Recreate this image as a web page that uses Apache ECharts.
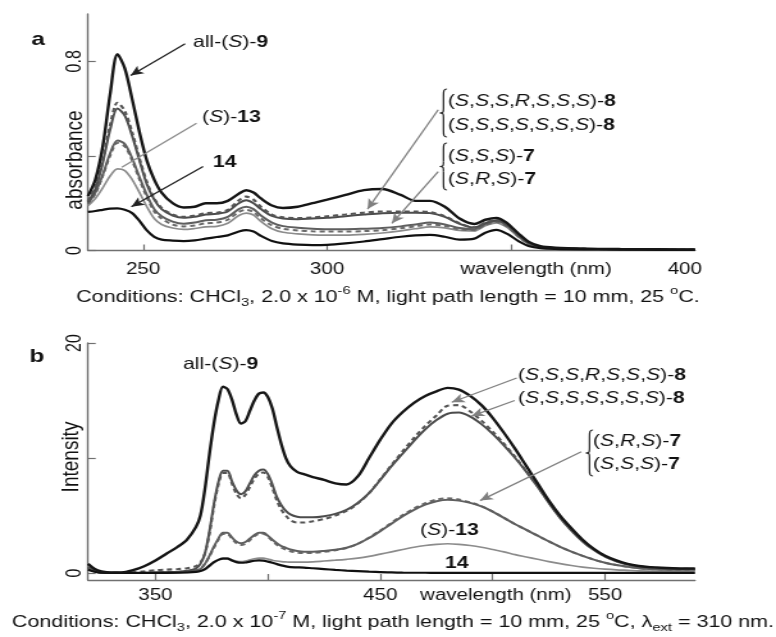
<!DOCTYPE html>
<html><head><meta charset="utf-8">
<script src="https://cdn.jsdelivr.net/npm/echarts@6/dist/echarts.min.js"></script>
<style>
html,body{margin:0;padding:0;background:#fff;overflow:hidden}
#wrap{width:776px;height:637px;overflow:hidden;background:#fff}
#c{width:606px;height:637px;transform:scaleX(1.2805);transform-origin:0 0}
</style>
</head><body><div id="wrap"><div id="c"></div></div>
<script>
// ---------- Panel a: absorbance ----------
const wavelengthsA = [235,237,239,241,243,245,247,249,251,253,255,258,261,264,267,270,273,276,278,280,282,285,288,292,296,300,305,310,315,320,324,328,332,336,340,343,346,349,352,355,358,362,370,380,390,400];
const absAll9 = [0.23,0.30,0.44,0.66,0.83,0.77,0.64,0.50,0.38,0.30,0.245,0.20,0.182,0.185,0.20,0.20,0.21,0.24,0.255,0.245,0.22,0.19,0.18,0.185,0.20,0.215,0.235,0.255,0.26,0.235,0.21,0.21,0.185,0.135,0.112,0.13,0.138,0.115,0.072,0.035,0.018,0.012,0.008,0.006,0.005,0.004];
const absSSSRSSS8 = [0.21,0.27,0.38,0.53,0.625,0.59,0.50,0.39,0.29,0.22,0.18,0.152,0.142,0.148,0.158,0.16,0.172,0.212,0.228,0.215,0.185,0.152,0.14,0.137,0.14,0.145,0.152,0.16,0.165,0.165,0.165,0.162,0.145,0.115,0.098,0.118,0.13,0.11,0.068,0.03,0.016,0.011,0.007,0.005,0.004,0.003];
const absSSSSSSS8 = [0.205,0.26,0.37,0.51,0.60,0.57,0.485,0.38,0.28,0.215,0.175,0.148,0.138,0.143,0.152,0.155,0.165,0.20,0.212,0.20,0.175,0.146,0.135,0.132,0.135,0.138,0.145,0.152,0.158,0.16,0.16,0.158,0.142,0.113,0.097,0.116,0.128,0.108,0.066,0.03,0.016,0.011,0.007,0.005,0.004,0.003];
const absSSS7 = [0.20,0.245,0.32,0.41,0.465,0.45,0.39,0.31,0.235,0.175,0.145,0.122,0.113,0.118,0.128,0.13,0.142,0.175,0.185,0.175,0.148,0.118,0.103,0.096,0.092,0.09,0.09,0.092,0.095,0.102,0.11,0.118,0.11,0.095,0.09,0.112,0.125,0.105,0.062,0.028,0.015,0.01,0.007,0.005,0.004,0.003];
const absSRS7 = [0.198,0.24,0.315,0.40,0.455,0.44,0.38,0.30,0.225,0.165,0.135,0.11,0.102,0.106,0.115,0.118,0.13,0.163,0.172,0.163,0.136,0.106,0.092,0.085,0.081,0.08,0.08,0.082,0.086,0.094,0.102,0.11,0.104,0.09,0.086,0.108,0.12,0.10,0.06,0.027,0.015,0.01,0.007,0.005,0.004,0.003];
const absS13 = [0.19,0.22,0.265,0.315,0.345,0.338,0.30,0.245,0.185,0.135,0.11,0.095,0.089,0.093,0.10,0.102,0.115,0.148,0.158,0.15,0.123,0.092,0.077,0.07,0.066,0.065,0.065,0.068,0.074,0.083,0.092,0.10,0.096,0.085,0.083,0.105,0.117,0.097,0.057,0.026,0.014,0.01,0.006,0.005,0.004,0.003];
const abs14 = [0.163,0.167,0.172,0.177,0.178,0.172,0.158,0.125,0.085,0.058,0.046,0.042,0.04,0.043,0.05,0.057,0.064,0.08,0.086,0.08,0.062,0.04,0.03,0.025,0.023,0.024,0.03,0.038,0.048,0.058,0.064,0.066,0.058,0.046,0.05,0.075,0.087,0.07,0.04,0.018,0.01,0.007,0.005,0.004,0.003,0.003];

// ---------- Panel b: fluorescence ----------
const wavelengthsB = [320,323,326,330,335,340,345,350,355,360,364,368,370,372,374,376,378,380,382,384,386,388,390,392,394,396,398,400,402,404,406,408,410,413,416,420,425,430,435,440,445,450,455,460,465,470,475,480,485,490,495,500,505,510,515,520,525,530,535,540,545,550,555,560,565,570,575,580,585,590];
const intAll9 = [0.8,0.35,0.15,0.05,0.05,0.25,0.6,1.1,1.7,2.3,2.9,4.0,5.0,7.3,10.3,13.0,15.0,16.2,16.0,15.1,13.8,13.0,13.2,14.1,15.0,15.6,15.7,15.3,14.3,12.7,11.2,10.0,9.3,8.8,8.6,8.35,8.1,7.8,7.7,8.4,10.0,11.6,13.0,14.0,14.8,15.4,15.8,16.1,15.95,15.4,14.6,13.5,12.2,10.8,9.3,7.8,6.3,5.0,3.9,2.9,2.1,1.5,1.1,0.8,0.62,0.52,0.46,0.42,0.4,0.4];
const intSSSRSSS8 = [0.5,0.2,0.08,0.03,0.03,0.08,0.15,0.25,0.3,0.35,0.42,0.6,0.9,1.7,3.4,5.8,7.7,8.7,8.7,7.8,6.9,6.5,6.8,7.5,8.2,8.65,8.75,8.35,7.4,6.3,5.5,5.0,4.6,4.4,4.4,4.5,4.7,5.0,5.4,6.05,6.95,8.15,9.4,10.6,11.75,12.8,13.7,14.55,14.6,14.05,13.25,12.3,11.25,10.1,8.85,7.55,6.15,4.85,3.75,2.8,2.05,1.45,1.05,0.77,0.6,0.5,0.43,0.39,0.37,0.36];
const intSSSSSSS8 = [0.5,0.2,0.05,0.0,0.0,0.0,0.02,0.05,0.08,0.12,0.2,0.4,0.8,1.7,3.6,6.0,7.9,8.9,8.9,8.0,7.2,6.85,7.1,7.8,8.5,8.9,9.0,8.6,7.7,6.6,5.9,5.4,5.1,4.9,4.85,4.85,4.95,5.15,5.5,6.1,6.95,8.1,9.3,10.4,11.5,12.5,13.3,13.85,13.95,13.6,12.95,12.1,11.1,10.0,8.8,7.5,6.1,4.8,3.7,2.75,2.0,1.42,1.02,0.75,0.58,0.48,0.42,0.38,0.36,0.35];
const intSRS7 = [0.4,0.15,0.03,0.0,0.0,0.0,0.02,0.05,0.08,0.1,0.15,0.25,0.38,0.8,1.45,2.2,2.9,3.4,3.4,3.0,2.6,2.45,2.55,2.85,3.2,3.4,3.42,3.15,2.8,2.45,2.2,2.05,1.9,1.78,1.74,1.76,1.85,1.98,2.18,2.55,3.08,3.7,4.38,5.05,5.62,6.08,6.38,6.5,6.4,6.15,5.82,5.35,4.8,4.25,3.75,3.25,2.75,2.28,1.86,1.5,1.17,0.9,0.7,0.55,0.43,0.36,0.32,0.3,0.3,0.3];
const intSSS7 = [0.4,0.15,0.03,0.0,0.0,0.0,0.0,0.02,0.04,0.07,0.12,0.22,0.35,0.8,1.5,2.3,3.0,3.5,3.5,3.1,2.75,2.6,2.7,3.0,3.3,3.5,3.5,3.25,2.9,2.6,2.35,2.2,2.05,1.92,1.86,1.86,1.92,2.02,2.2,2.55,3.05,3.65,4.3,4.95,5.5,5.95,6.25,6.38,6.3,6.1,5.8,5.35,4.8,4.25,3.75,3.25,2.75,2.28,1.86,1.5,1.17,0.9,0.7,0.55,0.43,0.36,0.32,0.3,0.3,0.3];
const intS13 = [0.3,0.12,0.03,0.0,0.0,0.0,0.0,0.0,0.02,0.04,0.06,0.1,0.16,0.3,0.6,0.9,1.15,1.3,1.3,1.15,1.05,1.0,1.05,1.15,1.25,1.3,1.3,1.22,1.12,1.05,1.0,0.97,0.95,0.95,0.95,0.98,1.05,1.12,1.2,1.3,1.45,1.65,1.85,2.05,2.25,2.4,2.5,2.55,2.5,2.4,2.25,2.05,1.85,1.6,1.4,1.2,1.0,0.82,0.66,0.52,0.42,0.34,0.28,0.24,0.2,0.18,0.17,0.16,0.15,0.15];
const int14 = [0.3,0.12,0.03,0.02,0.02,0.02,0.02,0.02,0.02,0.03,0.05,0.1,0.18,0.35,0.65,0.95,1.15,1.25,1.25,1.1,0.95,0.9,0.92,1.0,1.07,1.1,1.08,1.0,0.9,0.78,0.67,0.58,0.52,0.5,0.48,0.42,0.35,0.28,0.22,0.17,0.12,0.08,0.06,0.04,0.03,0.03,0.02,0.02,0.02,0.02,0.02,0.02,0.02,0.02,0.02,0.02,0.02,0.02,0.02,0.02,0.02,0.02,0.02,0.02,0.02,0.02,0.02,0.02,0.02,0.02];

// ---------- ticks / labels ----------
const xTicksA = [250,300,350];
const xLabelValsA = [250,300,350,400];
const xLabelTextsA = ['250','300','wavelength (nm)','400'];
const yTicksA = [0,0.4,0.8];
const yLabelValsA = [0,0.8];
const xTicksB = [350,400,450,500,550];
const xLabelValsB = [350,450,500,550];
const xLabelTextsB = ['350','450','wavelength (nm)','550'];
const yTicksB = [0,10,20];
const yLabelValsB = [0,20];

const FF = '"Liberation Sans", Arial, Helvetica, sans-serif';
const SX = 776/606;
const px = v => v / SX;
const AX = '#707070';

const chart = echarts.init(document.getElementById('c'), null, {renderer:'canvas'});
const zip = (xs, ys) => xs.map((x,i)=>[x, ys[i]]);

const styles = {
  s9:  {color:'#161616', width:2.4, type:'solid'},
  s8d: {color:'#555555', width:2.1, type:[4,3]},
  s8s: {color:'#4c4c4c', width:2.0, type:'solid'},
  s7a: {color:'#5f5f5f', width:2.0, type:'solid'},
  s7b: {color:'#6a6a6a', width:2.0, type:[4,3]},
  s13: {color:'#8c8c8c', width:1.7, type:'solid'},
  s14: {color:'#111111', width:2.2, type:'solid'}
};
function line(name, xs, ys, st, idx, extra) {
  return Object.assign({
    name, type:'line', xAxisIndex:idx, yAxisIndex:idx, data: zip(xs, ys),
    showSymbol:false, symbol:'none', smooth:0.3, animation:false, silent:true,
    lineStyle: {color: st.color, width: st.width, type: st.type}, z: 2
  }, extra || {});
}
function seg(a, b, color, arrow) {
  return [
    {coord:a, symbol:'none', lineStyle:{color, width:1.3, type:'solid'}},
    {coord:b, symbol: arrow ? 'arrow' : 'none', symbolSize: arrow ? [7,10] : 0, lineStyle:{color, width:1.3, type:'solid'}}
  ];
}
function marks(list) {
  return {silent:true, animation:false, symbol:['none','arrow'], label:{show:false},
    lineStyle:{width:1.3, type:'solid'}, emphasis:{disabled:true}, data:list};
}
const marksA = marks([
  seg([261.4,0.874],[246.6,0.74],'#222',true),
  seg([264.5,0.538],[244.2,0.352],'#8c8c8c',false),
  seg([266.3,0.355],[246.8,0.185],'#222',true),
  seg([330.2,0.595],[311.0,0.175],'#808080',true),
  seg([330.2,0.334],[317.6,0.115],'#808080',true)
]);
const marksB = marks([
  seg([510.7,16.96],[481.8,14.85],'#808080',true),
  seg([509.8,15.0],[490.6,13.65],'#808080',true),
  seg([539.4,10.55],[494.4,6.3],'#808080',true)
]);

const series = [
  line('(S)-13', wavelengthsA, absS13, styles.s13, 0),
  line('(S,R,S)-7', wavelengthsA, absSRS7, styles.s7b, 0),
  line('(S,S,S)-7', wavelengthsA, absSSS7, styles.s7a, 0),
  line('(S,S,S,S,S,S,S)-8', wavelengthsA, absSSSSSSS8, styles.s8s, 0),
  line('(S,S,S,R,S,S,S)-8', wavelengthsA, absSSSRSSS8, styles.s8d, 0),
  line('14', wavelengthsA, abs14, styles.s14, 0),
  line('all-(S)-9', wavelengthsA, absAll9, styles.s9, 0, {markLine: marksA}),
  line('(S)-13', wavelengthsB, intS13, styles.s13, 1),
  line('(S,R,S)-7', wavelengthsB, intSRS7, styles.s7b, 1),
  line('(S,S,S)-7', wavelengthsB, intSSS7, styles.s7a, 1),
  line('(S,S,S,S,S,S,S)-8', wavelengthsB, intSSSSSSS8, styles.s8s, 1),
  line('(S,S,S,R,S,S,S)-8', wavelengthsB, intSSSRSSS8, styles.s8d, 1),
  line('14', wavelengthsB, int14, styles.s14, 1),
  line('all-(S)-9', wavelengthsB, intAll9, styles.s9, 1, {markLine: marksB})
];

function xAxisCfg(grid, min, max, ticks, labVals, labTexts, margin, rich) {
  return {
    gridIndex:grid, type:'value', min, max,
    axisLine:{show:true, onZero:false, lineStyle:{color:AX, width:1.4}},
    axisTick:{show:true, inside:true, length:6, customValues:ticks, lineStyle:{color:AX, width:1.2}},
    axisLabel:{show:true, customValues:labVals, margin, fontSize:16, fontFamily:FF, color:'#111',
      formatter: v => { const i = labVals.indexOf(v); const t = labTexts[i];
        if (t === 'wavelength (nm)') return '{w|' + t + '}';
        if (t === '400') return '{e|' + t + '}';
        return t; },
      rich: rich},
    splitLine:{show:false}
  };
}
function yAxisCfg(grid, min, max, ticks, labVals) {
  return {
    gridIndex:grid, type:'value', min, max,
    axisLine:{show:true, onZero:false, lineStyle:{color:AX, width:1.4}},
    axisTick:{show:true, inside:true, length:6, customValues:ticks, lineStyle:{color:AX, width:1.2}},
    axisLabel:{show:true, customValues:labVals, rotate:90, margin:2, align:'center', verticalAlign:'bottom',
      fontSize:16, fontFamily:FF, color:'#111', formatter: v => String(v)},
    splitLine:{show:false}
  };
}
const richA = {
  w:{fontSize:16, fontFamily:FF, color:'#111', padding:[0,0,0,39]},
  e:{fontSize:16, fontFamily:FF, color:'#111', padding:[0,16,0,0]}
};
const richB = {
  w:{fontSize:16, fontFamily:FF, color:'#111', padding:[0,0,0,5]},
  e:{fontSize:16, fontFamily:FF, color:'#111'}
};

// ---------- annotations ----------
const FS = 16.5;
const RICH = {
  n:{fontSize:FS, fontFamily:FF, fill:'#111', color:'#111'},
  i:{fontSize:FS, fontFamily:FF, fontStyle:'italic', fill:'#111', color:'#111'},
  b:{fontSize:FS, fontFamily:FF, fontWeight:'bold', fill:'#111', color:'#111'}
};
function chem(config, num) {
  let s = '{n|(}';
  config.forEach((c,k) => { s += '{i|' + c + '}' + (k < config.length-1 ? '{n|,}' : ''); });
  return s + '{n|)-}{b|' + num + '}';
}
function T(xImg, yImg, text, extra) {
  const st = Object.assign({text, rich:RICH, fontSize:FS, fontFamily:FF, fill:'#111', align:'left', verticalAlign:'middle'}, extra||{});
  return {type:'text', x:px(xImg), y:yImg, silent:true, z:10, style:st};
}
function braceParts(xImg, y0, y1) {
  const xR = px(xImg + 7), xM = px(xImg + 3.5), xL = px(xImg);
  const m = (y0 + y1) / 2;
  const st = {stroke:'#222', lineWidth:1.2, fill:null};
  const bz = (x1,y1_,c1x,c1y,c2x,c2y,x2,y2) => ({type:'bezierCurve', silent:true, z:10,
    shape:{x1, y1:y1_, cpx1:c1x, cpy1:c1y, cpx2:c2x, cpy2:c2y, x2, y2}, style:st});
  const ln = (x1,y1_,x2,y2) => ({type:'line', silent:true, z:10, shape:{x1, y1:y1_, x2, y2}, style:st});
  return [
    bz(xR,y0, xM,y0, xM,y0+2, xM,y0+7),
    ln(xM,y0+7, xM,m-5),
    bz(xM,m-5, xM,m-1, xM,m, xL,m),
    bz(xL,m, xM,m, xM,m+1, xM,m+5),
    ln(xM,m+5, xM,y1-7),
    bz(xM,y1-7, xM,y1-2, xM,y1, xR,y1)
  ];
}
const CFS = 16.8;
const CAPRICH = {
  n:{fontSize:CFS, fontFamily:FF, fill:'#111', lineHeight:24},
  sub:{fontSize:11.5, fontFamily:FF, fill:'#111', lineHeight:11, verticalAlign:'bottom'},
  sup:{fontSize:11.5, fontFamily:FF, fill:'#111', lineHeight:13, verticalAlign:'top'}
};
const capA = '{n|Conditions: CHCl}{sub|3}{n|, 2.0 x 10}{sup|-6}{n| M, light path length = 10 mm, 25 }{sup|o}{n|C.}';
const capB = '{n|Conditions: CHCl}{sub|3}{n|, 2.0 x 10}{sup|-7}{n| M, light path length = 10 mm, 25 }{sup|o}{n|C, λ}{sub|ext}{n| = 310 nm.}';

const graphic = [].concat(
  [
    {type:'text', x:px(38), y:40, silent:true, style:{text:'a', fontSize:19, fontWeight:'bold', fontFamily:FF, fill:'#111', align:'center', verticalAlign:'middle'}},
    {type:'text', x:px(37), y:357, silent:true, style:{text:'b', fontSize:19, fontWeight:'bold', fontFamily:FF, fill:'#111', align:'center', verticalAlign:'middle'}},
    {type:'text', x:px(75), y:160, rotation:Math.PI/2, silent:true,
      style:{text:'absorbance', fontSize:19, fontFamily:FF, fill:'#111', align:'center', verticalAlign:'middle'}},
    {type:'text', x:px(72), y:457, rotation:Math.PI/2, silent:true,
      style:{text:'Intensity', fontSize:19, fontFamily:FF, fill:'#111', align:'center', verticalAlign:'middle'}},
    T(193, 42, '{n|all-(}{i|S}{n|)-}{b|9}'),
    T(202, 117, '{n|(}{i|S}{n|)-}{b|13}'),
    T(213, 162, '{b|14}'),
    T(448, 101, chem(['S','S','S','R','S','S','S'],'8')),
    T(448, 125, chem(['S','S','S','S','S','S','S'],'8')),
    T(448, 156, chem(['S','S','S'],'7')),
    T(448, 179, chem(['S','R','S'],'7')),
    T(183, 364, '{n|all-(}{i|S}{n|)-}{b|9}'),
    T(518, 375, chem(['S','S','S','R','S','S','S'],'8')),
    T(518, 398, chem(['S','S','S','S','S','S','S'],'8')),
    T(593, 441, chem(['S','R','S'],'7')),
    T(593, 464, chem(['S','S','S'],'7')),
    T(420, 530, '{n|(}{i|S}{n|)-}{b|13}'),
    T(445, 563, '{b|14}'),
    {type:'text', x:px(388), y:297, silent:true, style:{text:capA, rich:CAPRICH, fontSize:CFS, fontFamily:FF, fill:'#111', align:'center', verticalAlign:'middle'}},
    {type:'text', x:px(393), y:622, silent:true, style:{text:capB, rich:CAPRICH, fontSize:CFS, fontFamily:FF, fill:'#111', align:'center', verticalAlign:'middle'}}
  ],
  braceParts(440, 89, 137),
  braceParts(440, 143, 190),
  braceParts(586, 430, 476)
);

chart.setOption({
  backgroundColor:'#ffffff',
  animation:false,
  grid:[
    {left:px(88), top:14, width:px(695-88), height:236.5, containLabel:false},
    {left:px(88), top:343, width:px(695-88), height:237, containLabel:false}
  ],
  xAxis:[
    xAxisCfg(0, 235, 400, xTicksA, xLabelValsA, xLabelTextsA, 11, richA),
    xAxisCfg(1, 320, 590, xTicksB, xLabelValsB, xLabelTextsB, 8, richB)
  ],
  yAxis:[
    yAxisCfg(0, 0, 1.0, yTicksA, yLabelValsA),
    yAxisCfg(1, -0.6, 20, yTicksB, yLabelValsB)
  ],
  series,
  graphic
});
</script></body></html>
